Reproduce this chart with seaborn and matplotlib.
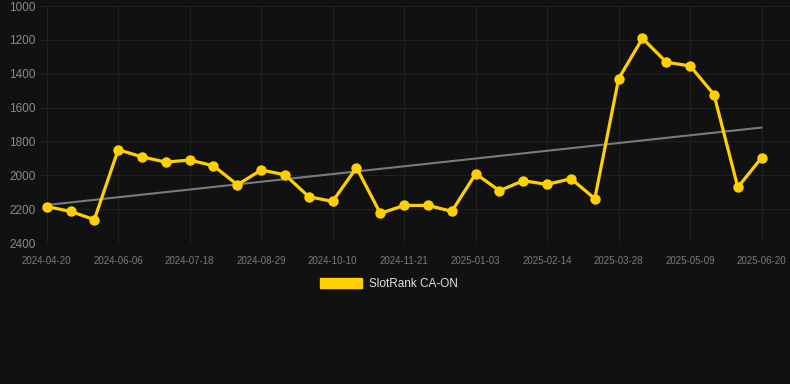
import numpy as np
import matplotlib.pyplot as plt
import seaborn as sns
from matplotlib.patches import Patch

# SlotRank CA-ON rank over time (lower is better, so y axis is inverted)
dates = [
    "2024-04-20", "2024-05-09", "2024-05-23", "2024-06-06", "2024-06-20",
    "2024-07-04", "2024-07-18", "2024-08-01", "2024-08-15", "2024-08-29",
    "2024-09-12", "2024-09-26", "2024-10-10", "2024-10-24", "2024-11-07",
    "2024-11-21", "2024-12-05", "2024-12-19", "2025-01-03", "2025-01-17",
    "2025-01-31", "2025-02-14", "2025-02-28", "2025-03-14", "2025-03-28",
    "2025-04-11", "2025-04-25", "2025-05-09", "2025-05-23", "2025-06-06",
    "2025-06-20",
]
ranks = [
    2185, 2213, 2262, 1849, 1891, 1922, 1910, 1944, 2056, 1969,
    1997, 2127, 2154, 1955, 2225, 2178, 2178, 2213, 1991, 2091,
    2032, 2054, 2020, 2138, 1429, 1191, 1332, 1354, 1523, 2071,
    1896,
]
yticks = [1000, 1200, 1400, 1600, 1800, 2000, 2200, 2400]

bg = "#111111"
grid = "#202020"
gold = "#FFD000"

sns.set_style("dark")
plt.rcParams["font.family"] = ["Liberation Sans", "DejaVu Sans"]

fig = plt.figure(figsize=(7.9, 3.84), dpi=100, facecolor=bg)
ax = fig.add_axes([40 / 790, 1 - 243 / 384, 750 / 790, 237 / 384])
ax.set_facecolor(bg)

idx = np.arange(len(ranks))

# trend line (least squares over the points)
sns.regplot(x=idx, y=ranks, ax=ax, scatter=False, ci=None,
            line_kws={"color": "#7a7a7a", "lw": 1.5, "zorder": 2})
sns.lineplot(x=idx, y=ranks, ax=ax, color=gold, lw=2.3, marker="o",
             markersize=7.5, markeredgewidth=0, zorder=3)

ax.set_ylim(2400, 1000)
ax.set_yticks(yticks)
ax.set_xlim(-0.28, 31.19)
ax.set_xticks(idx[::3])
ax.set_xticklabels(dates[::3])

ax.grid(True, color=grid, lw=0.8)
for s in ax.spines.values():
    s.set_visible(False)
ax.tick_params(axis="y", length=0, pad=3, labelsize=8.5, labelcolor="#8a8a8a")
ax.tick_params(axis="x", length=5, color=grid, pad=4, labelsize=7, labelcolor="#7a7a7a")
ax.set_xlabel("")
ax.set_ylabel("")

handle = Patch(facecolor=gold, edgecolor=gold)
fig.legend([handle], ["SlotRank CA-ON"], loc="center",
           bbox_to_anchor=(0.5 - 6 / 790, 1 - 284 / 384),
           frameon=False, fontsize=8.5, labelcolor="#e0e0e0",
           handlelength=3.6, handleheight=1.0, handletextpad=0.6)

fig.savefig("out.png", dpi=100, facecolor=bg)
